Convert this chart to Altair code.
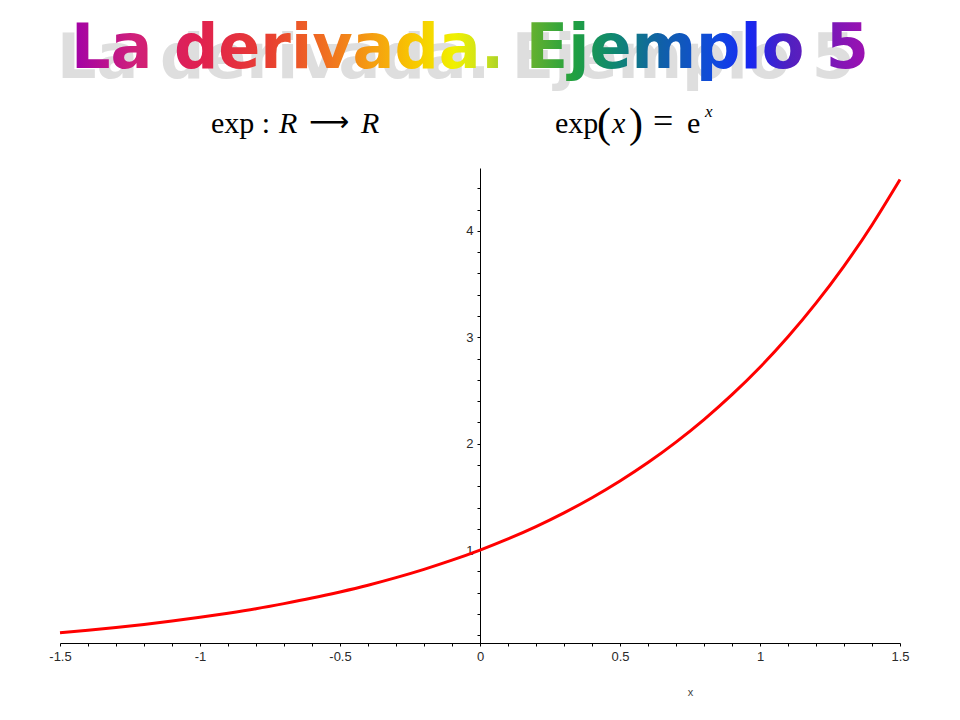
import altair as alt
import pandas as pd

# ---- data ----
x_vals = [-1.5, -1.4, -1.3, -1.2, -1.1, -1.0, -0.9, -0.8, -0.7, -0.6, -0.5,
          -0.4, -0.3, -0.2, -0.1, 0.0, 0.1, 0.2, 0.3, 0.4, 0.5,
          0.6, 0.7, 0.8, 0.9, 1.0, 1.1, 1.2, 1.3, 1.4, 1.5]
y_vals = [0.223, 0.247, 0.273, 0.301, 0.333, 0.368, 0.407, 0.449, 0.497, 0.549, 0.607,
          0.670, 0.741, 0.819, 0.905, 1.000, 1.105, 1.221, 1.350, 1.492, 1.649,
          1.822, 2.014, 2.226, 2.460, 2.718, 3.004, 3.320, 3.669, 4.055, 4.482]

x_tick_labels = ["-1.5", "-1", "-0.5", "0", "0.5", "1", "1.5"]
y_tick_labels = ["1", "2", "3", "4"]
x_minor_ticks = [round(-1.5 + 0.1 * i, 1) for i in range(31)]
y_minor_ticks = [round(0.2 * i, 1) for i in range(1, 23)]

title_text = "La derivada. Ejemplo 5"

df = pd.DataFrame({"x": x_vals, "y": y_vals})
one = pd.DataFrame({"k": [0]})

W, H = 840, 475

x_label_expr = ("indexof([" + ",".join("'" + s + "'" for s in x_tick_labels) + "], "
                "toString(round(datum.value*10)/10)) >= 0 ? toString(round(datum.value*10)/10) : ''")
y_label_expr = ("indexof([" + ",".join("'" + s + "'" for s in y_tick_labels) + "], "
                "toString(round(datum.value*10)/10)) >= 0 ? toString(round(datum.value*10)/10) : ''")

axis_common = dict(
    grid=False, domainColor="black", domainWidth=1, tickColor="black",
    tickSize=3, tickWidth=1, labelFont="Liberation Sans", labelFontSize=13,
    labelColor="#2a2a2a", labelFlush=False,
)

curve = alt.Chart(df).mark_line(color="#ff0000", strokeWidth=3, interpolate="natural").encode(
    x=alt.X("x:Q", scale=alt.Scale(domain=[-1.5, 1.5], nice=False, zero=False),
            axis=alt.Axis(values=x_minor_ticks, labelExpr=x_label_expr, title="x",
                          titleX=630, titleY=49, titleBaseline="middle", titleAlign="center",
                          titleFont="Liberation Sans", titleFontSize=11, titleFontWeight="normal",
                          titleColor="#444444", labelPadding=4, **axis_common)),
    y=alt.Y("y:Q", scale=alt.Scale(domain=[0.127, 4.59], nice=False, zero=False),
            axis=alt.Axis(values=y_minor_ticks, labelExpr=y_label_expr, title=None,
                          offset=-420, labelPadding=4, **axis_common)),
)

gradient = {
    "gradient": "linear", "x1": 0, "x2": 1, "y1": 0, "y2": 0,
    "stops": [
        {"offset": 0.0, "color": "#a000a8"},
        {"offset": 0.08, "color": "#d0207a"},
        {"offset": 0.16, "color": "#e02050"},
        {"offset": 0.25, "color": "#e84030"},
        {"offset": 0.32, "color": "#f07020"},
        {"offset": 0.38, "color": "#f5a010"},
        {"offset": 0.43, "color": "#f8c800"},
        {"offset": 0.48, "color": "#f0f000"},
        {"offset": 0.52, "color": "#c8e020"},
        {"offset": 0.58, "color": "#60b030"},
        {"offset": 0.63, "color": "#20a040"},
        {"offset": 0.68, "color": "#108870"},
        {"offset": 0.74, "color": "#1060a8"},
        {"offset": 0.81, "color": "#1048e0"},
        {"offset": 0.85, "color": "#1828f0"},
        {"offset": 0.90, "color": "#5020c0"},
        {"offset": 1.0, "color": "#a010b0"},
    ],
}

title_font = "DejaVu Sans"
shadow = alt.Chart(one).mark_text(
    text=title_text, font=title_font, fontSize=62, fontWeight="bold",
    fill="#c4c4c4", opacity=0.55, align="center", baseline="alphabetic",
).encode(x=alt.value(396), y=alt.value(-90))

title = alt.Chart(one).mark_text(
    text=title_text, font=title_font, fontSize=62, fontWeight="bold",
    fill=gradient, align="center", baseline="alphabetic",
).encode(x=alt.value(410), y=alt.value(-100))


def piece(txt, x, y, size=30, italic=False, font="Liberation Serif"):
    return alt.Chart(one).mark_text(
        text=txt, font=font, fontSize=size,
        fontStyle="italic" if italic else "normal", color="black",
        align="left", baseline="alphabetic",
    ).encode(x=alt.value(x), y=alt.value(y))


formula = [
    piece("exp :", 151, -35),
    piece("R", 219, -35, italic=True),
    piece("\u27f6", 249, -37, size=28, font="DejaVu Sans"),
    piece("R", 301, -35, italic=True),
    piece("exp", 495, -35),
    piece("(", 537, -31, size=42),
    piece("x", 552, -35, italic=True),
    piece(")", 569, -31, size=42),
    piece("=", 593, -35, size=36),
    piece("e", 627, -35),
    piece("x", 645, -51, size=17, italic=True),
]

chart = alt.layer(curve, shadow, title, *formula).properties(
    width=W, height=H,
    autosize=alt.AutoSizeParams(type="none"),
    padding={"left": 52, "top": 160, "right": 52, "bottom": 60},
    background="white",
).configure_view(stroke=None)

chart.save("out.html", embed_options={"renderer": "svg", "actions": False})
